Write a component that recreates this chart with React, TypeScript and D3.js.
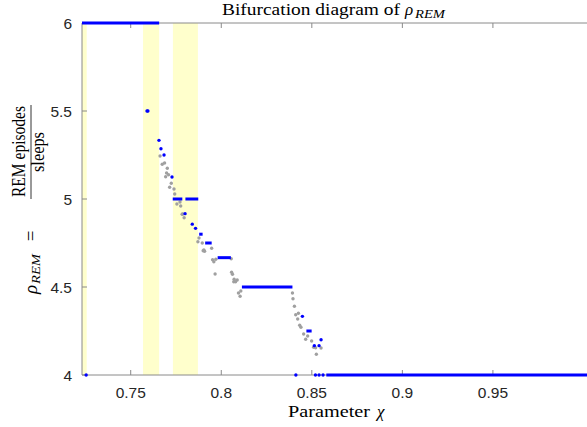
import React from "react";
import * as d3 from "d3";

const W = 587;
const H = 427;

// x ticks / y ticks
const xTicks = [0.75, 0.8, 0.85, 0.9, 0.95];
const xTickLabels = ["0.75", "0.8", "0.85", "0.9", "0.95"];
const yTicks = [4, 4.5, 5, 5.5, 6];
const yTickLabels = ["4", "4.5", "5", "5.5", "6"];

// highlighted parameter bands
const bandStart = [0.7231, 0.7568, 0.7733];
const bandEnd = [0.7257, 0.7657, 0.7871];

// blue plateaus (stable periodic rho values)
const segX0 = [0.7231, 0.858, 0.7732, 0.7802, 0.7878, 0.7911, 0.798, 0.8114, 0.847];
const segX1 = [0.7657, 1.0025, 0.7785, 0.7873, 0.7897, 0.7947, 0.8053, 0.8393, 0.8499];
const segY = [6, 4, 5, 5, 4.8, 4.75, 4.6667, 4.5, 4.25];

// blue isolated points
const blueX = [0.759, 0.7595, 0.7656, 0.7667, 0.7684, 0.7728, 0.78, 0.784, 0.7858, 0.8448, 0.8551, 0.8514, 0.854, 0.7254, 0.8412, 0.852, 0.854, 0.8562];
const blueY = [5.5, 5.5, 5.3333, 5.2857, 5.25, 5.125, 4.9167, 4.8571, 4.8333, 4.3333, 4.2, 4.1667, 4.1667, 4, 4, 4, 4, 4];

// grey (non-periodic) points
const greyX = [0.7662, 0.7674, 0.7687, 0.7702, 0.7698, 0.7709, 0.7693, 0.7724, 0.7715, 0.7739, 0.7743, 0.7755, 0.7772, 0.7776, 0.7784, 0.7795, 0.7787, 0.7877, 0.7871, 0.7895, 0.7904, 0.7908, 0.79, 0.7947, 0.7952, 0.7959, 0.797, 0.8055, 0.7966, 0.8057, 0.8062, 0.8071, 0.8079, 0.8088, 0.8069, 0.8108, 0.8095, 0.8104, 0.8393, 0.8396, 0.8404, 0.8411, 0.8426, 0.8422, 0.8433, 0.844, 0.8455, 0.8477, 0.8466, 0.8499, 0.851, 0.8521, 0.8525, 0.8551];
const greyY = [5.2443, 5.1972, 5.2045, 5.1744, 5.1477, 5.1381, 5.1267, 5.0892, 5.0665, 5.0568, 5.0284, 4.9716, 4.983, 4.9602, 4.9131, 4.8938, 4.9148, 4.7784, 4.7574, 4.75, 4.7102, 4.7028, 4.7062, 4.7199, 4.6551, 4.6438, 4.6574, 4.6608, 4.5739, 4.5835, 4.5722, 4.5438, 4.5301, 4.5398, 4.5301, 4.4773, 4.4659, 4.4472, 4.4659, 4.4335, 4.3903, 4.3426, 4.3506, 4.3182, 4.2824, 4.271, 4.233, 4.2216, 4.2028, 4.1932, 4.1574, 4.1551, 4.1176, 4.1534];

const xMin = 0.7231;
const xMax = 1.0025;

export default function App() {
  const x = d3.scaleLinear().domain([xMin, xMax]).range([82, 588]);
  const y = d3.scaleLinear().domain([4, 6]).range([375, 23]);
  const left = x(xMin);
  const top = y(6);
  const bottom = y(4);
  const axisColor = "#8a8a8a";
  const serif = "'Liberation Serif', 'Times New Roman', serif";
  const sans = "'Liberation Sans', Arial, sans-serif";

  return (
    <svg width={W} height={H} style={{ position: "absolute", left: 0, top: 0, background: "#fff" }}>
      <rect x={0} y={0} width={W} height={H} fill="#fff" />
      {bandStart.map((b, i) => (
        <rect key={"band" + i} x={x(b)} y={top} width={x(bandEnd[i]) - x(b)} height={bottom - top} fill="#ffffcc" />
      ))}
      {/* axes box */}
      <line x1={left} x2={W} y1={top} y2={top} stroke={axisColor} strokeWidth={1} />
      <line x1={left} x2={W} y1={bottom} y2={bottom} stroke={axisColor} strokeWidth={1} />
      <line x1={left} x2={left} y1={top} y2={bottom} stroke={axisColor} strokeWidth={1} />
      {xTicks.map((t, i) => (
        <g key={"xt" + i}>
          <line x1={x(t)} x2={x(t)} y1={bottom} y2={bottom - 5} stroke={axisColor} />
          <line x1={x(t)} x2={x(t)} y1={top} y2={top + 5} stroke={axisColor} />
          <text x={x(t)} y={398} textAnchor="middle" fontFamily={sans} fontSize={15.5} fill="#262626">
            {xTickLabels[i]}
          </text>
        </g>
      ))}
      {yTicks.map((t, i) => (
        <g key={"yt" + i}>
          <line x1={left} x2={left + 5} y1={y(t)} y2={y(t)} stroke={axisColor} />
          <text x={72} y={y(t) + 5.5} textAnchor="end" fontFamily={sans} fontSize={15.5} fill="#262626">
            {yTickLabels[i]}
          </text>
        </g>
      ))}
      {/* grey points */}
      {greyX.map((gx, i) => (
        <circle key={"g" + i} cx={x(gx)} cy={y(greyY[i])} r={1.7} fill="#a0a0a0" />
      ))}
      {/* blue plateaus */}
      {segX0.map((s, i) => (
        <line key={"s" + i} x1={x(s)} x2={x(segX1[i])} y1={y(segY[i])} y2={y(segY[i])} stroke="#0000ff" strokeWidth={3} />
      ))}
      {blueX.map((bx, i) => (
        <circle key={"b" + i} cx={x(bx)} cy={y(blueY[i])} r={1.7} fill="#0000ff" />
      ))}
      {/* title */}
      <text x={222} y={15} fontFamily={serif} fontSize={17} fill="#000" textLength={178} lengthAdjust="spacingAndGlyphs">
        Bifurcation diagram of
      </text>
      <text x={405} y={15} fontFamily={serif} fontSize={17} fontStyle="italic" fill="#000">ρ</text>
      <text x={415} y={18} fontFamily={serif} fontSize={12} fontStyle="italic" fill="#000" textLength={30} lengthAdjust="spacingAndGlyphs">REM</text>
      {/* x label */}
      <text x={288} y={417} fontFamily={serif} fontSize={17} fill="#000" textLength={82} lengthAdjust="spacingAndGlyphs">
        Parameter
      </text>
      <text x={377} y={417} fontFamily={serif} fontSize={17} fontStyle="italic" fill="#000">χ</text>
      {/* y label */}
      <g transform="translate(31,200) rotate(-90)">
        <text x={-94} y={6} fontFamily={serif} fontSize={19} fontStyle="italic" fill="#000">ρ</text>
        <text x={-84} y={9} fontFamily={serif} fontSize={13} fontStyle="italic" fill="#000" textLength={30} lengthAdjust="spacingAndGlyphs">REM</text>
        <text x={-36} y={6} textAnchor="middle" fontFamily={serif} fontSize={19} fill="#000">=</text>
        <line x1={1} x2={95} y1={0} y2={0} stroke="#000" strokeWidth={0.8} />
        <text x={3} y={-6} fontFamily={serif} fontSize={18} fill="#000" textLength={91} lengthAdjust="spacingAndGlyphs">REM episodes</text>
        <text x={28} y={13} fontFamily={serif} fontSize={18} fill="#000" textLength={40} lengthAdjust="spacingAndGlyphs">sleeps</text>
      </g>
    </svg>
  );
}
